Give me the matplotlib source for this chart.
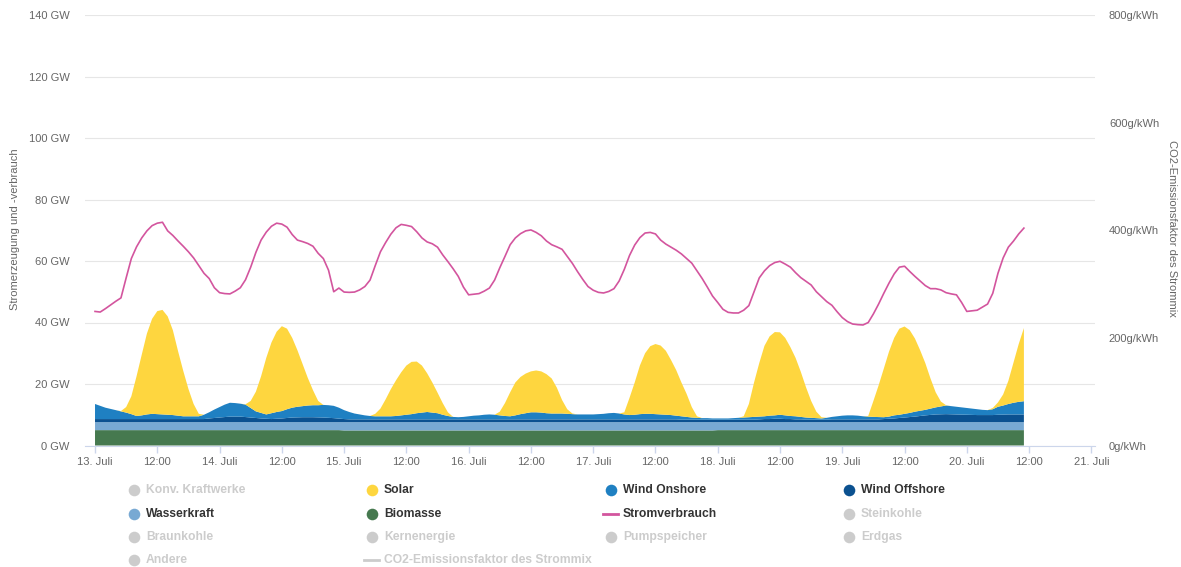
import numpy as np
import matplotlib.pyplot as plt

plt.rcParams['font.family'] = ['Liberation Sans', 'DejaVu Sans']

# Zeitachse: Stunden ab 13. Juli 00:00, stündlich bis 20. Juli 11:00
hours = np.arange(0, 180)

# Werte in GW, je zwei Zeilen ein Tag (24 Stunden)
biomasse = [
    5.0, 5.0, 5.0, 5.0, 5.0, 5.0, 5.0, 5.0, 5.0, 5.0, 5.0, 5.0,
    5.0, 5.0, 5.0, 5.0, 5.0, 5.0, 5.0, 5.0, 5.0, 5.0, 5.0, 5.0,
    5.0, 5.0, 5.0, 5.0, 5.0, 5.0, 5.0, 5.0, 5.0, 5.0, 5.0, 5.0,
    5.0, 5.0, 5.0, 5.0, 5.0, 5.0, 5.0, 5.0, 5.0, 5.0, 5.0, 5.0,
    4.9, 4.9, 4.9, 4.9, 4.9, 4.9, 4.9, 4.9, 4.9, 4.9, 4.9, 4.9,
    4.9, 4.9, 4.9, 4.9, 4.9, 4.9, 4.9, 4.9, 4.9, 4.9, 4.9, 4.9,
    4.9, 4.9, 4.9, 4.9, 4.9, 4.9, 4.9, 4.9, 4.9, 4.9, 4.9, 4.9,
    4.9, 4.9, 4.9, 4.9, 4.9, 4.9, 4.9, 4.9, 4.9, 4.9, 4.9, 4.9,
    4.9, 4.9, 4.9, 4.9, 4.9, 4.9, 4.9, 4.9, 4.9, 4.9, 4.9, 4.9,
    4.9, 4.9, 4.9, 4.9, 4.9, 4.9, 4.9, 4.9, 4.9, 4.9, 4.9, 4.9,
    5.0, 5.0, 5.0, 5.0, 5.0, 5.0, 5.0, 5.0, 5.0, 5.0, 5.0, 5.0,
    5.0, 5.0, 5.0, 5.0, 5.0, 5.0, 5.0, 5.0, 5.0, 5.0, 5.0, 5.0,
    5.0, 5.0, 5.0, 5.0, 5.0, 5.0, 5.0, 5.0, 5.0, 5.0, 5.0, 5.0,
    5.0, 5.0, 5.0, 5.0, 5.0, 5.0, 5.0, 5.0, 5.0, 5.0, 5.0, 5.0,
    5.0, 5.0, 5.0, 5.0, 5.0, 5.0, 5.0, 5.0, 5.0, 5.0, 5.0, 5.0,
]
wasserkraft = [
    2.6, 2.6, 2.6, 2.6, 2.6, 2.6, 2.6, 2.6, 2.6, 2.6, 2.6, 2.6,
    2.6, 2.6, 2.6, 2.6, 2.6, 2.6, 2.6, 2.6, 2.6, 2.6, 2.6, 2.6,
    2.6, 2.6, 2.6, 2.6, 2.6, 2.6, 2.6, 2.6, 2.6, 2.6, 2.6, 2.6,
    2.6, 2.6, 2.6, 2.6, 2.6, 2.6, 2.6, 2.6, 2.6, 2.6, 2.6, 2.6,
    2.7, 2.7, 2.7, 2.7, 2.7, 2.7, 2.7, 2.7, 2.7, 2.7, 2.7, 2.7,
    2.7, 2.7, 2.7, 2.7, 2.7, 2.7, 2.7, 2.7, 2.7, 2.7, 2.7, 2.7,
    2.7, 2.7, 2.7, 2.7, 2.7, 2.7, 2.7, 2.7, 2.7, 2.7, 2.7, 2.7,
    2.7, 2.7, 2.7, 2.7, 2.7, 2.7, 2.7, 2.7, 2.7, 2.7, 2.7, 2.7,
    2.7, 2.7, 2.7, 2.7, 2.7, 2.7, 2.7, 2.7, 2.7, 2.7, 2.7, 2.7,
    2.7, 2.7, 2.7, 2.7, 2.7, 2.7, 2.7, 2.7, 2.7, 2.7, 2.7, 2.7,
    2.6, 2.6, 2.6, 2.6, 2.6, 2.6, 2.6, 2.6, 2.6, 2.6, 2.6, 2.6,
    2.6, 2.6, 2.6, 2.6, 2.6, 2.6, 2.6, 2.6, 2.6, 2.6, 2.6, 2.6,
    2.6, 2.6, 2.6, 2.6, 2.6, 2.6, 2.6, 2.6, 2.6, 2.6, 2.6, 2.6,
    2.6, 2.6, 2.6, 2.6, 2.6, 2.6, 2.6, 2.6, 2.6, 2.6, 2.6, 2.6,
    2.6, 2.6, 2.6, 2.6, 2.6, 2.6, 2.6, 2.6, 2.6, 2.6, 2.6, 2.6,
]
wind_offshore = [
    1.0, 1.0, 1.0, 1.0, 1.0, 1.0, 1.0, 1.0, 1.0, 1.0, 1.0, 1.0,
    1.0, 1.0, 1.0, 1.0, 1.0, 1.0, 1.0, 1.0, 1.0, 1.0, 1.2, 1.35,
    1.5, 1.65, 1.8, 1.8, 1.8, 1.65, 1.5, 1.35, 1.2, 1.1, 1.0, 1.1,
    1.2, 1.35, 1.5, 1.55, 1.6, 1.6, 1.6, 1.55, 1.5, 1.4, 1.3, 1.15,
    1.0, 0.9, 0.9, 0.9, 0.9, 0.9, 0.9, 0.9, 0.9, 0.9, 0.9, 0.9,
    0.9, 0.9, 0.9, 0.9, 0.9, 0.9, 0.9, 0.9, 0.9, 0.9, 0.9, 0.9,
    0.9, 0.9, 0.9, 0.9, 0.9, 0.9, 0.9, 0.9, 0.9, 0.9, 0.9, 0.9,
    0.9, 0.9, 0.9, 0.9, 0.9, 0.9, 0.9, 0.9, 0.9, 0.9, 0.9, 0.9,
    0.9, 0.9, 0.9, 0.9, 0.9, 0.9, 0.9, 0.9, 0.9, 0.9, 0.9, 0.9,
    0.9, 0.9, 0.9, 0.9, 0.9, 0.8, 0.8, 0.8, 0.8, 0.8, 0.8, 0.8,
    0.8, 0.8, 0.8, 0.8, 0.8, 0.8, 0.8, 0.8, 0.9, 1.0, 1.0, 1.1,
    1.1, 1.0, 1.0, 0.9, 0.9, 0.8, 0.8, 0.8, 0.8, 0.8, 0.9, 0.9,
    0.9, 0.9, 0.9, 0.9, 0.9, 0.9, 0.9, 0.9, 1.0, 1.1, 1.2, 1.35,
    1.5, 1.65, 1.8, 2.0, 2.2, 2.35, 2.5, 2.55, 2.6, 2.55, 2.5, 2.45,
    2.4, 2.35, 2.3, 2.3, 2.3, 2.3, 2.4, 2.45, 2.5, 2.5, 2.5, 2.5,
]
wind_onshore = [
    4.9, 4.3, 3.7, 3.3, 2.9, 2.5, 2.1, 1.6, 1.0, 1.2, 1.5, 1.7,
    1.6, 1.5, 1.4, 1.3, 1.1, 0.9, 0.9, 0.9, 0.9, 1.4, 2.0, 2.75,
    3.4, 4.05, 4.5, 4.4, 4.2, 4.05, 3.1, 2.15, 1.8, 1.4, 1.9, 2.2,
    2.4, 2.85, 3.2, 3.45, 3.6, 3.8, 3.9, 3.95, 4.1, 4.1, 4.0, 3.55,
    2.9, 2.4, 1.9, 1.6, 1.3, 1.1, 1.0, 1.0, 1.0, 1.0, 1.1, 1.3,
    1.5, 1.7, 2.0, 2.2, 2.4, 2.2, 2.0, 1.5, 1.1, 0.8, 0.7, 0.8,
    1.0, 1.2, 1.3, 1.5, 1.6, 1.5, 1.3, 1.1, 1.0, 1.3, 1.7, 2.0,
    2.3, 2.3, 2.2, 2.0, 1.9, 1.9, 1.9, 1.8, 1.7, 1.6, 1.6, 1.6,
    1.6, 1.7, 1.8, 2.0, 2.1, 1.9, 1.6, 1.4, 1.5, 1.7, 1.8, 1.8,
    1.7, 1.6, 1.5, 1.4, 1.2, 1.1, 0.9, 0.7, 0.6, 0.5, 0.5, 0.4,
    0.4, 0.4, 0.4, 0.5, 0.6, 0.7, 0.8, 0.9, 0.9, 0.9, 1.1, 1.1,
    1.3, 1.2, 1.0, 1.0, 0.8, 0.7, 0.6, 0.5, 0.4, 0.6, 0.8, 1.0,
    1.2, 1.3, 1.3, 1.2, 1.0, 0.9, 0.8, 0.75, 0.6, 0.7, 1.0, 1.05,
    1.2, 1.35, 1.6, 1.7, 1.8, 2.05, 2.3, 2.55, 2.8, 2.65, 2.5, 2.35,
    2.2, 2.05, 1.9, 1.7, 1.6, 1.9, 2.6, 2.95, 3.4, 3.8, 4.1, 4.3,
]
solar = [
    0.0, 0.0, 0.0, 0.0, 0.0, 0.1, 1.8, 5.8, 12.9, 19.7, 26.3, 30.9,
    33.5, 34.0, 32.0, 27.6, 21.0, 14.8, 8.9, 4.0, 0.8, 0.0, 0.0, 0.0,
    0.0, 0.0, 0.0, 0.0, 0.0, 0.1, 2.3, 6.4, 11.9, 18.4, 23.0, 26.1,
    27.6, 26.2, 22.7, 18.4, 13.7, 9.0, 4.9, 1.4, 0.0, 0.0, 0.0, 0.0,
    0.0, 0.0, 0.0, 0.0, 0.0, 0.0, 0.8, 2.5, 5.5, 8.8, 11.6, 14.0,
    16.0, 17.0, 16.8, 15.3, 12.6, 9.8, 6.7, 3.8, 1.2, 0.0, 0.0, 0.0,
    0.0, 0.0, 0.0, 0.0, 0.0, 0.0, 1.2, 4.2, 7.8, 10.7, 12.1, 12.9,
    13.3, 13.6, 13.4, 12.7, 11.4, 8.4, 4.4, 1.5, 0.2, 0.0, 0.0, 0.0,
    0.0, 0.0, 0.0, 0.0, 0.0, 0.0, 0.7, 5.6, 10.5, 15.8, 19.7, 22.0,
    22.8, 22.4, 20.8, 17.9, 14.8, 11.0, 7.5, 3.4, 0.5, 0.0, 0.0, 0.0,
    0.0, 0.0, 0.0, 0.0, 0.0, 0.4, 4.3, 11.2, 17.4, 22.9, 25.8, 27.1,
    26.8, 25.2, 22.4, 19.0, 14.7, 9.9, 5.5, 2.1, 0.4, 0.0, 0.0, 0.0,
    0.0, 0.0, 0.0, 0.0, 0.0, 0.2, 5.2, 10.3, 15.8, 21.1, 25.2, 28.0,
    28.4, 26.9, 23.8, 19.7, 15.2, 9.8, 4.9, 1.6, 0.1, 0.0, 0.0, 0.0,
    0.0, 0.0, 0.0, 0.0, 0.0, 0.4, 1.4, 3.6, 7.5, 13.1, 18.8, 23.8,
]
stromverbrauch = [
    43.6, 43.4, 44.5, 45.7, 46.9, 48.0, 54.5, 60.8, 64.6, 67.5, 69.8, 71.5,
    72.3, 72.6, 69.8, 68.3, 66.5, 64.8, 63.0, 61.0, 58.5, 56.0, 54.3, 51.3,
    49.7, 49.4, 49.3, 50.2, 51.3, 53.9, 58.0, 62.8, 66.8, 69.4, 71.3, 72.3,
    72.0, 71.0, 68.6, 66.8, 66.3, 65.7, 64.8, 62.5, 60.8, 57.0, 50.0, 51.2,
    49.9, 49.8, 49.9, 50.6, 51.7, 53.8, 58.5, 63.0, 66.0, 68.7, 70.8, 71.9,
    71.6, 71.2, 69.5, 67.5, 66.2, 65.6, 64.5, 62.0, 59.8, 57.5, 55.0, 51.5,
    49.0, 49.2, 49.4, 50.2, 51.2, 53.8, 57.8, 61.5, 65.3, 67.5, 68.9, 69.8,
    70.1, 69.3, 68.2, 66.5, 65.3, 64.6, 63.8, 61.5, 59.2, 56.5, 54.0, 51.7,
    50.5, 49.8, 49.6, 50.1, 51.0, 53.5, 57.3, 61.8, 65.2, 67.6, 69.1, 69.3,
    68.8, 66.8, 65.5, 64.5, 63.5, 62.3, 60.8, 59.3, 56.8, 54.3, 51.5, 48.6,
    46.5, 44.3, 43.3, 43.1, 43.1, 44.0, 45.5, 50.0, 54.5, 56.8, 58.5, 59.5,
    59.9, 59.0, 58.0, 56.2, 54.6, 53.4, 52.2, 50.0, 48.4, 46.8, 45.6, 43.5,
    41.6, 40.3, 39.5, 39.3, 39.2, 40.0, 42.8, 46.0, 49.5, 52.8, 55.8, 58.0,
    58.3, 56.6, 55.0, 53.5, 52.0, 51.0, 51.0, 50.6, 49.7, 49.3, 49.0, 46.5,
    43.6, 43.8, 44.0, 45.0, 46.0, 49.5, 56.0, 61.0, 64.5, 66.5, 68.8, 70.7,
]

x_ticks = list(range(0, 193, 12))
x_labels = ['13. Juli', '12:00', '14. Juli', '12:00', '15. Juli', '12:00',
            '16. Juli', '12:00', '17. Juli', '12:00', '18. Juli', '12:00',
            '19. Juli', '12:00', '20. Juli', '12:00', '21. Juli']
gw_ticks = [0, 20, 40, 60, 80, 100, 120, 140]
co2_ticks = [0, 200, 400, 600, 800]

c_solar = '#fed63f'
c_onshore = '#1f80c2'
c_offshore = '#0b5190'
c_wasser = '#78a9d3'
c_bio = '#46794f'
c_load = '#d3559e'
c_grey = '#cccccc'
c_text = '#666666'

W, H = 1181, 567
fig = plt.figure(figsize=(W / 100, H / 100), dpi=100)
ax = fig.add_axes([85 / W, 1 - 445.5 / H, (1095 - 85) / W, (445.5 - 15) / H])

ax.stackplot(hours, biomasse, wasserkraft, wind_offshore, wind_onshore, solar,
             colors=[c_bio, c_wasser, c_offshore, c_onshore, c_solar],
             linewidth=0, zorder=2)
ax.plot(hours, stromverbrauch, color=c_load, lw=1.2, zorder=3)

ax.set_xlim(-1.93, 192.7)
ax.set_ylim(0, 140)
ax.set_yticks(gw_ticks)
ax.set_yticklabels([f'{v} GW' for v in gw_ticks])
ax.set_xticks(x_ticks)
ax.set_xticklabels(x_labels)
ax.tick_params(axis='y', length=0, pad=11, labelsize=8, labelcolor=c_text)
ax.tick_params(axis='x', length=5, width=1, color='#ccd6eb', pad=3,
               labelsize=8, labelcolor=c_text)
ax.yaxis.grid(True, color='#e6e6e6', lw=0.8)
ax.set_axisbelow(True)
for side in ['top', 'left', 'right']:
    ax.spines[side].set_visible(False)
ax.spines['bottom'].set_color('#ccd6eb')
ax.spines['bottom'].set_zorder(4)

ax2 = ax.twinx()
ax2.set_ylim(0, 800)
ax2.set_yticks(co2_ticks)
ax2.set_yticklabels([f'{v}g/kWh' for v in co2_ticks])
ax2.tick_params(axis='y', length=0, pad=10, labelsize=8, labelcolor=c_text)
for side in ax2.spines:
    ax2.spines[side].set_visible(False)

fig.text(15 / W, 1 - 229 / H, 'Stromerzeugung und -verbrauch', rotation=90,
         ha='center', va='center', fontsize=8, color=c_text)
fig.text(1172 / W, 1 - 228 / H, 'CO2-Emissionsfaktor des Strommix',
         rotation=270, ha='center', va='center', fontsize=8, color=c_text)

# Legende unter dem Diagramm
legend_items = [
    ('Konv. Kraftwerke', c_grey, 'dot', False),
    ('Solar', c_solar, 'dot', True),
    ('Wind Onshore', c_onshore, 'dot', True),
    ('Wind Offshore', c_offshore, 'dot', True),
    ('Wasserkraft', c_wasser, 'dot', True),
    ('Biomasse', c_bio, 'dot', True),
    ('Stromverbrauch', c_load, 'line', True),
    ('Steinkohle', c_grey, 'dot', False),
    ('Braunkohle', c_grey, 'dot', False),
    ('Kernenergie', c_grey, 'dot', False),
    ('Pumpspeicher', c_grey, 'dot', False),
    ('Erdgas', c_grey, 'dot', False),
    ('Andere', c_grey, 'dot', False),
    ('CO2-Emissionsfaktor des Strommix', c_grey, 'line', False),
]
col_x = [134, 372, 611, 849]
row_y = [490, 514, 537, 560]

lax = fig.add_axes([0, 0, 1, 1])
lax.set_xlim(0, W)
lax.set_ylim(H, 0)
lax.axis('off')
for i, (name, color, kind, active) in enumerate(legend_items):
    x = col_x[i % 4]
    y = row_y[i // 4]
    if kind == 'dot':
        lax.scatter([x], [y], s=70, color=color, lw=0)
    else:
        lax.plot([x - 8, x + 7], [y, y], color=color, lw=2)
    lax.text(x + 12, y, name, ha='left', va='center', fontsize=8.7,
             fontweight='bold', color='#333333' if active else c_grey)

plt.savefig('out.png', dpi=100)
